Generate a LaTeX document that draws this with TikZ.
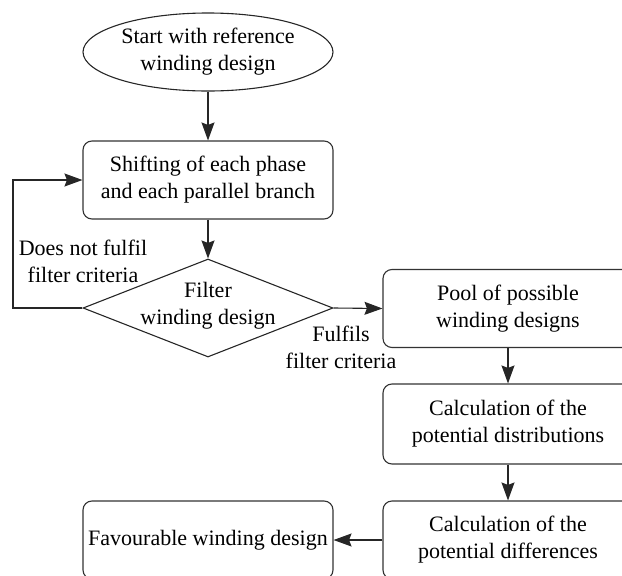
\documentclass[tikz,border=0pt]{standalone}
\usepackage{fontspec}
\setmainfont{Liberation Serif}
\usetikzlibrary{shapes.geometric,arrows.meta}
\begin{document}
\begin{tikzpicture}[x=1pt,y=-1pt,
  line width=1.1pt,
  every node/.style={font=\fontsize{22}{27}\selectfont, align=center, text=black},
  stepbox/.style={draw=black!80, rounded corners=9pt, minimum width=250pt, minimum height=78pt, inner sep=0pt},
  startbox/.style={draw=black!85, ellipse, minimum width=250pt, minimum height=78pt, inner sep=0pt},
  decbox/.style={draw=black!85, diamond, minimum width=250pt, minimum height=98pt, inner sep=0pt},
  lbl/.style={inner sep=0pt},
  arr/.style={draw=black!85, -{Stealth[length=18pt,width=13pt,inset=2.5pt]}}
]
\useasboundingbox (0,0) rectangle (622,576);
\clip (0,0) rectangle (622,576);

\node[startbox] (start) at (208,52) {Start with reference\\winding design};
\node[stepbox] (shift) at (208,180) {Shifting of each phase\\and each parallel branch};
\node[decbox] (filter) at (208,308) {};
\node[lbl] (filtertxt) at (208,306) {Filter\\winding design};
\node[stepbox] (pool) at (508,308.5) {Pool of possible\\winding designs};
\node[stepbox, minimum height=80pt] (dist) at (508,424) {Calculation of the\\potential distributions};
\node[stepbox] (diff) at (508,540) {Calculation of the\\potential differences};
\node[stepbox] (fav) at (208,540) {Favourable winding design};

\node[lbl] (nofit) at (83,261) {Does not fulfil\\filter criteria};
\node[lbl] (fit) at (341,347) {Fulfils\\filter criteria};

\coordinate (loopc) at (13,308);

\draw[arr] (start) -- (shift);
\draw[arr] (shift) -- (filter);
\draw[arr] (filter.west) -- (loopc) |- (shift.west);
\draw[arr] (filter.east) -- (pool.west);
\draw[arr] (pool) -- (dist);
\draw[arr] (dist) -- (diff);
\draw[arr] (diff) -- (fav);
\end{tikzpicture}
\end{document}
